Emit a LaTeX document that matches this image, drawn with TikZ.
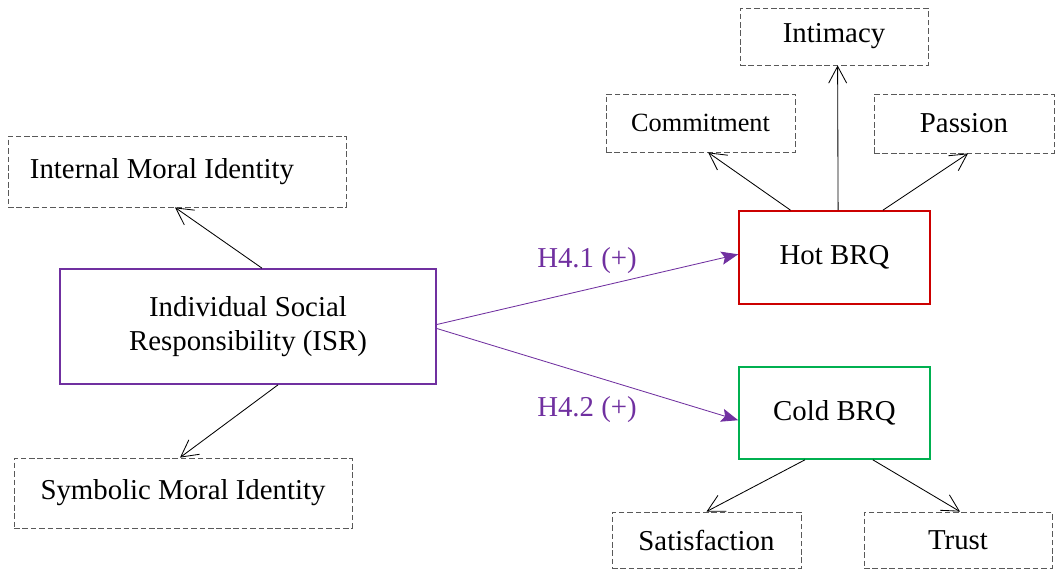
\documentclass[tikz,border=0pt]{standalone}
\usepackage{fontspec}
\setmainfont{Liberation Serif}
\usepackage{xcolor}
\usepackage{tikz}
\usetikzlibrary{arrows.meta}
\definecolor{isrpurple}{RGB}{112,48,160}
\definecolor{hotred}{RGB}{204,0,0}
\definecolor{coldgreen}{RGB}{0,176,80}
\tikzstyle{dim} = [rectangle, draw=black!65, line width=0.6pt, dash pattern=on 4pt off 2pt, text centered, font=\fontsize{20.5}{24.2}\selectfont]
\tikzstyle{construct} = [rectangle, line width=1.2pt, text centered, align=center, font=\fontsize{20.5}{24.2}\selectfont]
\tikzstyle{arrow} = [line width=0.6pt, -{Straight Barb[length=0.42cm, width=0.45cm]}]
\tikzstyle{hyp} = [isrpurple, line width=0.6pt, -{Stealth[length=0.42cm, width=0.33cm, inset=0.08cm]}]

\begin{document}
\begin{tikzpicture}
  \useasboundingbox (0,0) rectangle (26.4,-14.275);
  % nodes
    \node (isr) [construct, draw=isrpurple, minimum width=9.4cm, minimum height=2.875cm] at (6.2,-8.1625) {Individual Social\\Responsibility (ISR)};
    \node (hot) [construct, draw=hotred, minimum width=4.775cm, minimum height=2.325cm] at (20.8625,-6.4375) {Hot BRQ};
    \node (cold) [construct, draw=coldgreen, minimum width=4.775cm, minimum height=2.3cm] at (20.8625,-10.325) {Cold BRQ};
    \node (internal) [dim, minimum width=8.45cm, minimum height=1.775cm] at (4.425,-4.2875) {Internal Moral Identity\hspace*{0.75cm}};
    \node (symbolic) [dim, minimum width=8.45cm, minimum height=1.75cm] at (4.575,-12.325) {Symbolic Moral Identity};
    \node (intimacy) [dim, minimum width=4.7cm, minimum height=1.425cm] at (20.85,-0.9125) {Intimacy};
    \node (commitment) [dim, minimum width=4.725cm, minimum height=1.45cm, font=\fontsize{18.7}{22}\selectfont] at (17.5125,-3.075) {Commitment};
    \node (passion) [dim, minimum width=4.5cm, minimum height=1.475cm] at (24.1,-3.0875) {Passion};
    \node (satisfaction) [dim, minimum width=4.725cm, minimum height=1.4cm] at (17.6625,-13.5) {Satisfaction};
    \node (trust) [dim, minimum width=4.7cm, minimum height=1.4cm] at (23.95,-13.5) {Trust};
    \node (h41) [text=isrpurple, font=\fontsize{20.5}{24.2}\selectfont] at (14.675,-6.525) {H4.1 (+)};
    \node (h42) [text=isrpurple, font=\fontsize{20.5}{24.2}\selectfont] at (14.675,-10.25) {H4.2 (+)};
  %arrows
    \draw [arrow] ([xshift=0.35cm]isr.north) -- ([xshift=-0.05cm]internal.south);
    \draw [arrow] ([xshift=0.75cm]isr.south) -- ([xshift=-0.075cm]symbolic.north);
    \draw [hyp] ([yshift=0.05cm]isr.east) -- ([yshift=0.08cm]hot.west);
    \draw [hyp] ([yshift=-0.05cm]isr.east) -- ([yshift=-0.18cm]cold.west);
    \draw [arrow] ([xshift=-1.1cm]hot.north) -- ([xshift=0.19cm]commitment.south);
    \draw [arrow] ([xshift=0.09cm]hot.north) -- ([xshift=0.09cm]intimacy.south);
    \draw [arrow] ([xshift=1.21cm]hot.north) -- ([xshift=0.1cm]passion.south);
    \draw [arrow] ([xshift=-0.74cm]cold.south) -- (satisfaction.north);
    \draw [arrow] ([xshift=0.96cm]cold.south) -- ([xshift=0.05cm]trust.north);
  \end{tikzpicture}
\end{document}
